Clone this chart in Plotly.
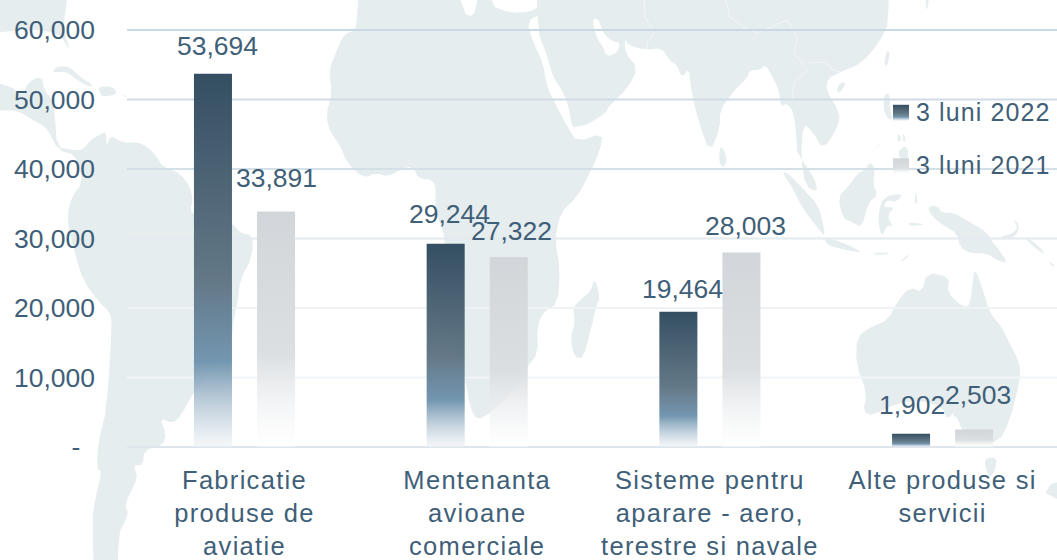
import plotly.graph_objects as go

# ---------- data ----------
categories = ["Fabricatie<br>produse de<br>aviatie",
              "Mentenanta<br>avioane<br>comerciale",
              "Sisteme pentru<br>aparare - aero,<br>terestre si navale",
              "Alte produse si<br>servicii"]
series_2022 = [53694, 29244, 19464, 1902]
series_2021 = [33891, 27322, 28003, 2503]
name_2022 = "3 luni 2022"
name_2021 = "3 luni 2021"
y_tick_vals = [0, 10000, 20000, 30000, 40000, 50000, 60000]
y_tick_text = ["-\u00a0\u00a0", "10,000", "20,000", "30,000", "40,000", "50,000", "60,000"]

# ---------- style ----------
W, H = 1057, 560
L, R, T, B = 127, 0, 30, 113.3
TXT = "#3f5f79"
LAND = "#e6edef"
FONT = "Liberation Sans"
grid_colors = ["#dde6ec", "#f2f5f8", "#eff3f6", "#e3eaf0", "#d3e0e8", "#cfdce6", "#c9d8e5"]
label_dx_2022 = [4, 4, 4, 1]
label_dy_2022 = [28, 30, 23, 29]
label_dx_2021 = [0, 3, 4, 4]
label_dy_2021 = [33, 26, 26, 35]

# ---------- decorative world map backdrop (page pixels) ----------
land = [
 [(0,0),(73,0),(65,12),(64,30),(70,52),(65,42),(58,34),(40,30),(20,30),(5,32),(0,34)],
 # Americas
 [(0,75),(10,85),(22,97),(28,82),(42,76),(44,90),(53,100),(55,117),(57,147),(72,150),(83,150),
  (90,140),(103,133),(106,132),(107,148),(110,135),(123,143),(137,142),(148,147),(157,157),(163,167),
  (180,173),(190,187),(193,200),(190,210),(197,217),(213,217),(233,223),(240,233),(253,235),(252,257),
  (240,280),(238,300),(233,323),(232,337),(193,393),(180,417),(172,423),(160,418),(166,433),(163,445),
  (144,450),(143,465),(133,465),(138,477),(128,497),(125,507),(129,513),(117,537),(120,560),(95,560),
  (92,520),(95,500),(102,470),(97,470),(98,443),(107,407),(112,323),(110,312),(100,303),(83,280),
  (75,253),(68,227),(68,210),(72,197),(82,183),(80,170),(75,155),(58,150),(48,130),(42,125),(33,120),
  (20,112),(10,110),(0,110)],
 [(52,72),(58,66),(70,67),(80,77),(93,85),(90,87),(77,80),(67,72),(57,72)],
 [(98,87),(112,86),(118,94),(103,97),(100,93)],
 [(123,95),(128,96),(125,97)],
 # Africa
 [(360,0),(453,0),(463,13),(473,17),(477,3),(485,0),(490,5),(510,13),(530,12),(540,6),(540,14),(527,22),(533,42),(543,63),
  (547,87),(555,103),(568,128),(577,142),(603,133),(600,150),(590,173),(577,197),(560,213),(555,240),
  (560,268),(558,303),(543,312),(537,327),(538,353),(527,367),(510,395),(490,413),(477,420),(470,407),
  (465,377),(450,333),(443,300),(445,243),(443,230),(435,210),(436,190),(433,180),(418,178),(415,170),
  (407,166),(388,177),(377,173),(363,178),(347,163),(340,145),(330,132),(326,115),(332,93),(329,70),
  (335,55),(343,35),(355,30),(357,20)],
 # Eurasia
 [(537,0),(537,30),(547,55),(553,77),(560,87),(568,103),(572,127),(575,127),(587,125),(607,112),(608,107),
  (628,88),(638,68),(625,53),(625,38),(628,45),(645,50),(662,48),(669,60),(677,65),(682,78),(689,68),
  (691,90),(699,123),(710,153),(720,128),(720,110),(733,92),(747,78),(750,70),(760,70),(765,65),(770,72),
  (779,90),(781,107),(787,103),(794,113),(797,143),(797,153),(814,177),(818,192),(806,187),(801,160),
  (803,123),(813,132),(823,150),(838,127),(840,113),(826,90),(828,78),(841,72),(862,63),(879,43),(890,20),
  (885,0)],
 [(721,145),(727,157),(725,167),(720,165),(719,155)],
 [(841,82),(846,83),(840,93),(836,90)],
 [(887,50),(890,53),(887,67),(884,63)],
 [(595,277),(600,298),(597,303),(590,333),(583,358),(575,357),(572,347),(571,335),(575,323),(573,307),(582,298),(590,292)],
 [(885,93),(890,95),(890,110),(893,120),(887,118),(883,107)],
 [(897,153),(905,145),(909,153),(905,165)],
 [(897,133),(902,138),(898,143)],
 [(903,132),(906,140),(903,142)],
 [(882,139),(875,151),(878,147)],
 [(870,162),(875,168),(873,185),(878,195),(868,203),(862,227),(852,222),(843,218),(838,197),(848,187),(858,173),(865,170)],
 [(883,197),(903,193),(897,202),(887,200),(883,207),(895,207),(887,215),(893,227),(887,225),(883,235),(880,232),(878,215)],
 [(782,172),(788,173),(807,193),(818,205),(823,222),(825,237),(818,228),(802,207),(792,187)],
 [(825,238),(838,240),(865,253),(847,250),(827,245)],
 [(870,253),(893,252),(880,255)],
 [(898,263),(910,253),(907,258)],
 [(927,207),(937,205),(942,213),(953,212),(970,222),(987,232),(993,243),(998,248),(1008,263),(997,260),
  (987,253),(970,253),(960,247),(957,233),(943,225),(933,217)],
 [(1000,237),(1013,233),(1018,227),(1012,218),(1020,225),(1015,237),(1003,240)],
 [(1028,237),(1045,252),(1042,253),(1026,240)],
 [(1048,260),(1055,265),(1053,267)],
 [(908,222),(927,224),(910,226)],
 [(915,190),(918,202),(915,205)],
 [(975,268),(983,290),(990,313),(1002,327),(1007,338),(1020,363),(1020,380),(1010,420),(998,443),(977,440),
  (962,430),(957,417),(952,415),(958,407),(947,420),(943,407),(920,400),(897,403),(873,415),(863,412),
  (867,393),(856,363),(857,337),(870,327),(888,320),(898,300),(910,287),(922,292),(927,272),(950,277),
  (947,292),(963,307),(970,305),(973,280)],
 [(985,458),(997,457),(995,470),(990,478),(985,467)],
 [(1053,480),(1057,478),(1057,503),(1043,497)],
 [(929,0),(933,0),(928,10),(925,7)],
]
water = [
 [(592,20),(598,18),(603,33),(613,42),(620,42),(618,52),(607,57),(603,47),(597,38)],
]
borders = [
 [(716,0),(730,17),(743,27),(757,33),(787,20),(797,37),(794,53),(808,70),(794,83),(792,100)],
 [(809,63),(824,62),(833,70),(841,72)],
 [(642,0),(645,17),(654,33),(647,43),(647,50)],
]

PW, PH = W - L - R, H - T - B

def bleed(p):
    x, y = p
    return (-40 if x == 0 else 1097 if x == W else x, -40 if y == 0 else 600 if y == H else y)

def smooth(pts):
    pts = [bleed(p) for p in pts]
    out = []
    for a, b in zip(pts, pts[1:] + pts[:1]):
        out.append((0.75 * a[0] + 0.25 * b[0], 0.75 * a[1] + 0.25 * b[1]))
        out.append((0.25 * a[0] + 0.75 * b[0], 0.25 * a[1] + 0.75 * b[1]))
    return out

def to_path(pts, close=True):
    segs = [f"{(x - L) / PW:.5f},{1 - (y - T) / PH:.5f}" for x, y in pts]
    return "M" + " L".join(segs) + (" Z" if close else "")

shapes = []
for poly in land:
    shapes.append(dict(type="path", xref="paper", yref="paper", layer="below",
                       path=to_path(smooth(poly)), fillcolor=LAND, line=dict(width=0)))
for poly in water:
    shapes.append(dict(type="path", xref="paper", yref="paper", layer="below",
                       path=to_path(smooth(poly)), fillcolor="#ffffff", line=dict(width=0)))
for poly in borders:
    shapes.append(dict(type="path", xref="paper", yref="paper", layer="below",
                       path=to_path([bleed(p) for p in poly], False), line=dict(width=0.7, color="#f6f9fa")))
Y_MAX = max(y_tick_vals)
for v, c in zip(y_tick_vals, grid_colors):
    shapes.append(dict(type="line", xref="paper", x0=0, x1=1, yref="paper", y0=v / Y_MAX, y1=v / Y_MAX,
                       layer="below", line=dict(width=2, color=c)))

# ---------- figure ----------
x_pos = list(range(len(categories)))
BAR_OFFSET = 31.5 / 232.7

annotations = []
for sign, vals, dxs, dys in [(-1, series_2022, label_dx_2022, label_dy_2022),
                             (1, series_2021, label_dx_2021, label_dy_2021)]:
    for i, v in enumerate(vals):
        annotations.append(dict(x=i + sign * BAR_OFFSET, y=v, text=f"{v:,}", showarrow=False,
                                xanchor="center", yanchor="middle", xshift=dxs[i], yshift=dys[i],
                                font=dict(family=FONT, size=26.5, color=TXT)))

fig = go.Figure()
fig.add_bar(x=x_pos, y=series_2022, name=name_2022, legendgroup="a", marker=dict(color="#4f6b80", line_width=0))
fig.add_bar(x=x_pos, y=series_2021, name=name_2021, legendgroup="b", marker=dict(color="#d6dade", line_width=0))

fig.update_layout(
    width=W, height=H, autosize=False,
    margin=dict(l=L, r=R, t=T, b=B, pad=0, autoexpand=False),
    paper_bgcolor="#ffffff", plot_bgcolor="rgba(0,0,0,0)",
    barmode="group", bargap=0.458, bargroupgap=0.397,
    font=dict(family=FONT, color=TXT, size=25),
    showlegend=True,
    legend=dict(x=(876 - L) / PW, xanchor="left", y=1 - (88 - T) / PH, yanchor="top",
                bgcolor="rgba(0,0,0,0)", traceorder="grouped", tracegroupgap=18,
                font=dict(family=FONT, size=25, color=TXT)),
    xaxis=dict(range=[-(244.5 - L) / 232.7, (W - 244.5) / 232.7], tickvals=x_pos, ticktext=categories,
               showgrid=False, zeroline=False, showline=False, ticks="", ticklabelstandoff=15, automargin=False,
               tickfont=dict(family=FONT, size=25.5, color=TXT), tickangle=0),
    yaxis=dict(range=[0, Y_MAX], tickvals=y_tick_vals, ticktext=y_tick_text, showgrid=False, zeroline=False,
               showline=False, ticks="", ticklabelstandoff=31, automargin=False,
               tickfont=dict(family=FONT, size=26.5, color=TXT)),
    shapes=shapes, annotations=annotations,
)

post = """
document.body.style.margin='0';document.body.style.overflow='hidden';
var gd=document.getElementById('{plot_id}');
var NS='http://www.w3.org/2000/svg';
var svg=gd.querySelector('svg.main-svg');
var defs=document.createElementNS(NS,'defs');
function grad(id,stops){
  var g=document.createElementNS(NS,'linearGradient');
  g.setAttribute('id',id);g.setAttribute('x1','0');g.setAttribute('y1','0');g.setAttribute('x2','0');g.setAttribute('y2','1');
  stops.forEach(function(s){var e=document.createElementNS(NS,'stop');e.setAttribute('offset',s[0]);
    e.setAttribute('stop-color',s[1]);e.setAttribute('stop-opacity',s[2]);g.appendChild(e);});
  defs.appendChild(g);
}
grad('gA',[[0,'#344e62',1],[0.55,'#5f7483',0.97],[0.77,'#6f93ae',0.97],[1,'#eef2f6',0.6]]);
grad('gB',[[0,'#d2d6da',1],[0.6,'#dadee1',0.97],[1,'#ffffff',0.5]]);
svg.insertBefore(defs,svg.firstChild);
var ids=['gA','gB'];
gd.querySelectorAll('.barlayer .trace').forEach(function(t,i){
  t.querySelectorAll('path').forEach(function(p){p.style.fill='url(#'+ids[i]+')';p.style.opacity='1';});
});
gd.querySelectorAll('.legend .traces').forEach(function(t,i){
  t.querySelectorAll('.legendpoints path').forEach(function(p){
    p.setAttribute('d','M8,8H-8V-8H8Z');p.style.fill='url(#'+ids[i]+')';
    p.setAttribute('transform','translate(25,2)');});
});
gd.querySelectorAll('.xtick text').forEach(function(t){t.style.letterSpacing='1.3px';});
gd.querySelectorAll('.legendtext').forEach(function(t){t.style.letterSpacing='1.1px';});
gd.querySelectorAll('.legend .scrollbox').forEach(function(t){t.removeAttribute('clip-path');t.style.clipPath='none';});
"""
fig.write_html("out.html", post_script=post, config={"displayModeBar": False})
